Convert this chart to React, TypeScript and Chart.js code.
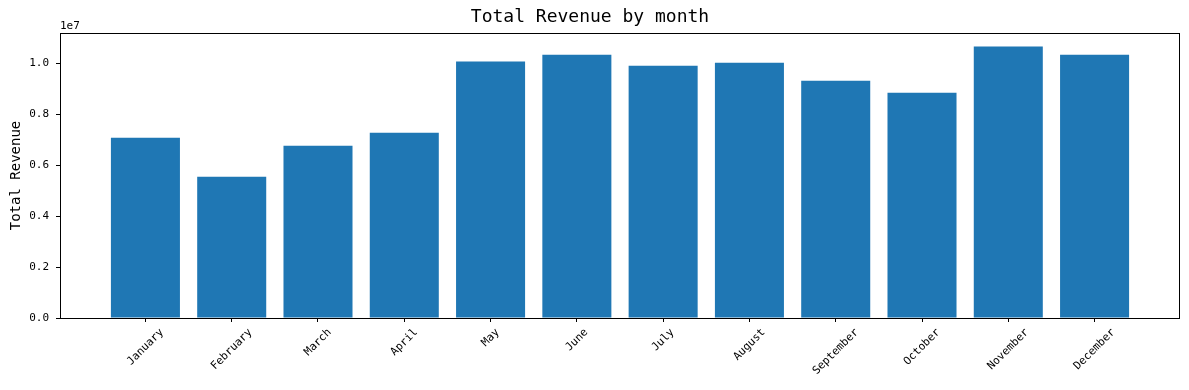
import React, { useEffect, useRef } from "react";
import { Chart, registerables } from "chart.js";

Chart.register(...registerables);

const months = [
  "January", "February", "March", "April", "May", "June",
  "July", "August", "September", "October", "November", "December",
];
const revenue = [
  7070000, 5540000, 6760000, 7270000, 10060000, 10330000,
  9900000, 10020000, 9310000, 8840000, 10650000, 10330000,
];
const yTicks = [0, 2000000, 4000000, 6000000, 8000000, 10000000];

const FONT = '"DejaVu Sans Mono", monospace';

export default function App() {
  const ref = useRef<HTMLCanvasElement | null>(null);

  useEffect(() => {
    const canvas = ref.current;
    if (!canvas) return;
    const yMax = Math.max(...revenue) * 1.05;
    const decor = {
      id: "decor",
      afterDraw(chart: any) {
        const ctx = chart.ctx;
        const area = chart.chartArea;
        const xs = chart.scales.x;
        ctx.save();
        ctx.strokeStyle = "#000";
        ctx.lineWidth = 1;
        ctx.strokeRect(
          Math.round(area.left) + 0.5,
          Math.round(area.top) + 0.5,
          Math.round(area.right - area.left) - 1,
          Math.round(area.bottom - area.top)
        );
        ctx.fillStyle = "#000";
        ctx.font = "11px " + FONT;
        ctx.textAlign = "left";
        ctx.textBaseline = "alphabetic";
        ctx.fillText("1e7", area.left, area.top - 4);
        months.forEach((m, i) => {
          const px = xs.getPixelForValue(i);
          const w = ctx.measureText(m).width;
          const h = 13;
          const half = ((w + h) * Math.SQRT1_2) / 2;
          const cy = area.bottom + 8 + half;
          ctx.save();
          ctx.translate(px, cy);
          ctx.rotate(-Math.PI / 4);
          ctx.textAlign = "center";
          ctx.textBaseline = "middle";
          ctx.fillText(m, 0, 0);
          ctx.restore();
        });
        ctx.restore();
      },
    };

    const chart = new Chart(canvas, {
      type: "bar",
      data: {
        datasets: [
          {
            data: revenue.map((v, i) => ({ x: i, y: v })),
            backgroundColor: "#1f77b4",
            borderWidth: 0,
            categoryPercentage: 1,
            barPercentage: 0.8,
          },
        ],
      },
      options: {
        responsive: false,
        animation: false,
        layout: { padding: { left: 0, right: 9, top: 0, bottom: 0 } },
        plugins: {
          legend: { display: false },
          tooltip: { enabled: false },
          title: {
            display: true,
            text: "Total Revenue by month",
            color: "#000",
            font: { family: FONT, size: 18, weight: "normal" },
            padding: { top: 6.7, bottom: 4.7 },
          },
        },
        scales: {
          x: {
            type: "linear",
            min: -0.99,
            max: 11.99,
            offset: false,
            grid: {
              display: true,
              offset: false,
              drawOnChartArea: false,
              drawTicks: true,
              tickLength: 4,
              color: "#000",
            },
            border: { display: false },
            ticks: { display: false, stepSize: 1, includeBounds: false, autoSkip: false },
            afterFit: (scale: any) => {
              scale.height = 72;
            },
          },
          y: {
            type: "linear",
            min: 0,
            max: yMax,
            grid: {
              display: true,
              drawOnChartArea: false,
              drawTicks: true,
              tickLength: 4,
              color: "#000",
            },
            border: { display: false },
            afterBuildTicks: (scale: any) => {
              scale.ticks = yTicks.map((v) => ({ value: v }));
            },
            ticks: {
              color: "#000",
              padding: 7,
              font: { family: FONT, size: 11 },
              callback: (v: any) => (Number(v) / 1e7).toFixed(1),
            },
            title: {
              display: true,
              text: "Total Revenue",
              color: "#000",
              font: { family: FONT, size: 14 },
              padding: { top: 7.5, bottom: 0 },
            },
            afterFit: (scale: any) => {
              scale.width = 60;
            },
          },
        },
      },
      plugins: [decor],
    } as any);
    return () => chart.destroy();
  }, []);

  return (
    <div style={{ position: "absolute", left: 0, top: 0, width: 1189, height: 390, background: "#fff" }}>
      <canvas ref={ref} width={1189} height={390} style={{ display: "block" }} />
    </div>
  );
}
